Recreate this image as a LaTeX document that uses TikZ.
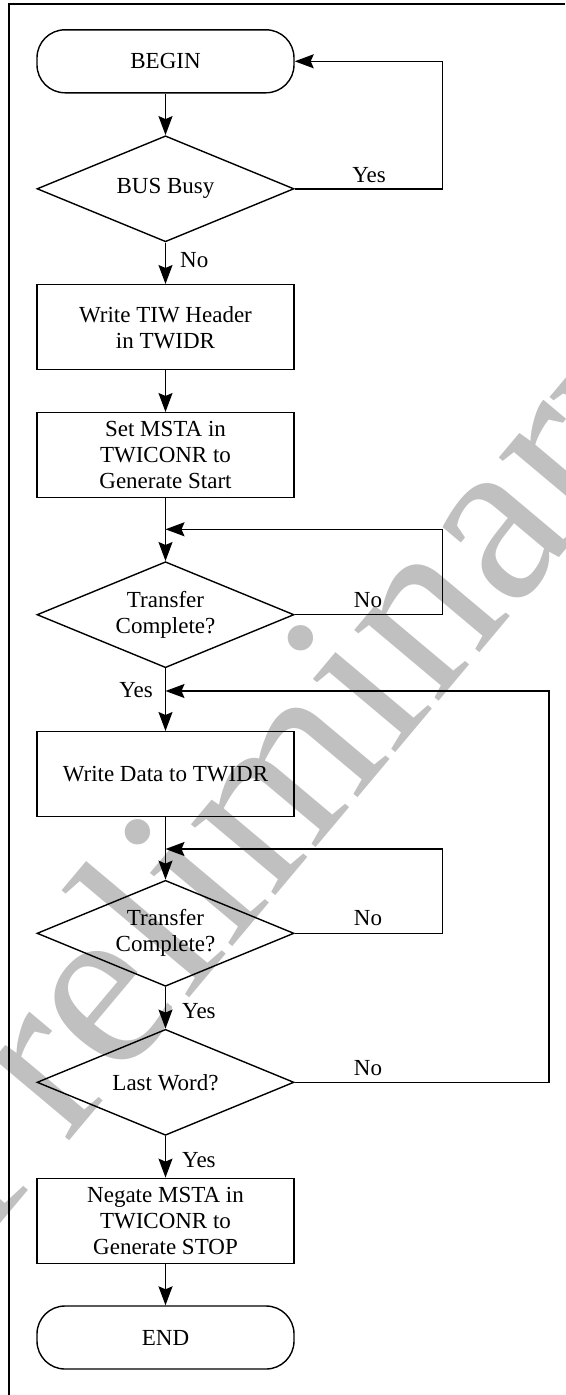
\documentclass[tikz,border=0pt]{standalone}
\usepackage{fontspec}
\setmainfont{Liberation Serif}
\usetikzlibrary{shapes.geometric,arrows.meta}
\definecolor{wmgray}{RGB}{192,192,192}
\tikzset{
  every picture/.style={x=1pt,y=-1pt},
  base/.style={draw=black,line width=1.4pt,font=\fontsize{23}{26}\selectfont,align=center,inner sep=0pt},
  term/.style={base,rectangle,rounded corners=28pt,minimum width=257pt,minimum height=63pt},
  proc/.style={base,rectangle,minimum width=257pt,minimum height=85pt},
  dec/.style={base,diamond,aspect=2.42,minimum width=257pt,minimum height=106pt},
  flow/.style={line width=1.4pt,-{Stealth[length=19pt,width=14pt,inset=3pt]}},
  lbl/.style={font=\fontsize{23}{26}\selectfont,inner sep=0pt},
  frameline/.style={line width=2pt},
  wm/.style={text=wmgray,font=\fontsize{240}{240}\selectfont,inner sep=0pt,anchor=base,rotate=50}
}
\begin{document}
\begin{tikzpicture}
\useasboundingbox (0,0) rectangle (565,1395);
\clip (0,0) rectangle (565,1395);
% watermark
\node[wm] (wmk) at (345,813) {Preliminary};
% frame
\coordinate (ftl) at (9,4);
\coordinate (ftr) at (565,4);
\coordinate (fbl) at (9,1395);
\draw[frameline] (fbl) -- (ftl) -- (ftr);
% nodes
\node[term] (begin) at (165.5,61.3) {BEGIN};
\node[dec] (busy) at (165.5,188.8) {BUS Busy};
\node[proc] (hdr) at (165.5,327.2) {Write TIW Header\\in TWIDR};
\node[proc] (msta) at (165.5,455.2) {Set MSTA in\\TWICONR to\\Generate Start};
\node[dec] (tc1) at (165.5,614.7) {Transfer\\Complete?};
\node[proc] (wdata) at (165.5,774.2) {Write Data to TWIDR};
\node[dec] (tc2) at (165.5,933.3) {Transfer\\Complete?};
\node[dec] (last) at (165.5,1082.3) {Last Word?};
\node[proc] (neg) at (165.5,1220.8) {Negate MSTA in\\TWICONR to\\Generate STOP};
\node[term] (end) at (165.5,1337.5) {END};
% junction / corner coordinates
\coordinate (c0) at (442.5,188.8);
\coordinate (j1) at (165.5,529.3);
\coordinate (c1) at (442.5,614.7);
\coordinate (j2) at (165.5,691);
\coordinate (j3) at (165.5,849);
\coordinate (c3) at (442.5,933.3);
\coordinate (c4) at (549,1082.3);
% main flow
\draw[flow] (begin) -- (busy);
\draw[flow] (busy) -- (hdr);
\draw[flow] (hdr) -- (msta);
\draw[flow] (msta) -- (tc1);
\draw[flow] (tc1) -- (wdata);
\draw[flow] (wdata) -- (tc2);
\draw[flow] (tc2) -- (last);
\draw[flow] (last) -- (neg);
\draw[flow] (neg) -- (end);
% loops
\draw[flow] (busy.east) -- (c0) |- (begin.east);
\draw[flow] (tc1.east) -- (c1) |- (j1);
\draw[flow] (tc2.east) -- (c3) |- (j3);
\draw[flow] (last.east) -- (c4) |- (j2);
% labels
\node[lbl,anchor=center] (lyes0) at (369,175) {Yes};
\node[lbl,anchor=west] (lno0) at (180,260) {No};
\node[lbl,anchor=center] (lno1) at (368,600) {No};
\node[lbl,anchor=east] (lyes1) at (153,690) {Yes};
\node[lbl,anchor=center] (lno2) at (368,918.3) {No};
\node[lbl,anchor=west] (lyes2) at (182,1010.7) {Yes};
\node[lbl,anchor=center] (lno3) at (368,1067.7) {No};
\node[lbl,anchor=west] (lyes3) at (182,1160) {Yes};
\end{tikzpicture}
\end{document}
